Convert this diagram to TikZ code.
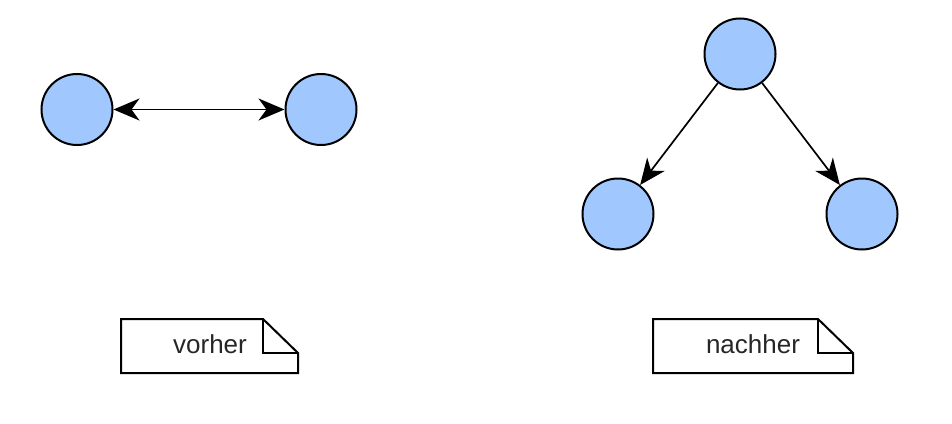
\documentclass[tikz,border=0pt]{standalone}
\usepackage{fontspec}
\setmainfont{Liberation Sans}
\usetikzlibrary{arrows.meta}
\definecolor{nodeblue}{RGB}{160,200,255}
\begin{document}
\begin{tikzpicture}[x=1pt,y=-1pt,
  circ/.style={circle,draw=black,line width=2pt,fill=nodeblue,minimum size=71pt,inner sep=0pt},
  conn/.style={line width=1.7pt,-{Stealth[length=26pt,width=22pt,inset=8pt]}},
  notebox/.style={line width=2pt},
  notetext/.style={font=\fontsize{26}{30}\selectfont,text=black!85,inner sep=0pt}]
\useasboundingbox (0,0) rectangle (952,423);
% left group
\node[circ] (a) at (77,109.5) {};
\node[circ] (b) at (321,109.5) {};
\draw[conn,{Stealth[length=26pt,width=22pt,inset=8pt]}-{Stealth[length=26pt,width=22pt,inset=8pt]}] (a) -- (b);
% right group
\node[circ] (t) at (740,54) {};
\node[circ] (l) at (618,214) {};
\node[circ] (r) at (862,214) {};
\draw[conn] (t) -- (l);
\draw[conn] (t) -- (r);
% notes
\draw[notebox] (121,319) -- (263,319) -- (298,353) -- (298,373) -- (121,373) -- cycle;
\draw[notebox] (263,319) -- (263,353) -- (298,353);
\node[notetext] (n1) at (210,344) {vorher};
\draw[notebox] (653,319) -- (818,319) -- (853,353) -- (853,373) -- (653,373) -- cycle;
\draw[notebox] (818,319) -- (818,353) -- (853,353);
\node[notetext] (n2) at (753,344) {nachher};
\end{tikzpicture}
\end{document}
